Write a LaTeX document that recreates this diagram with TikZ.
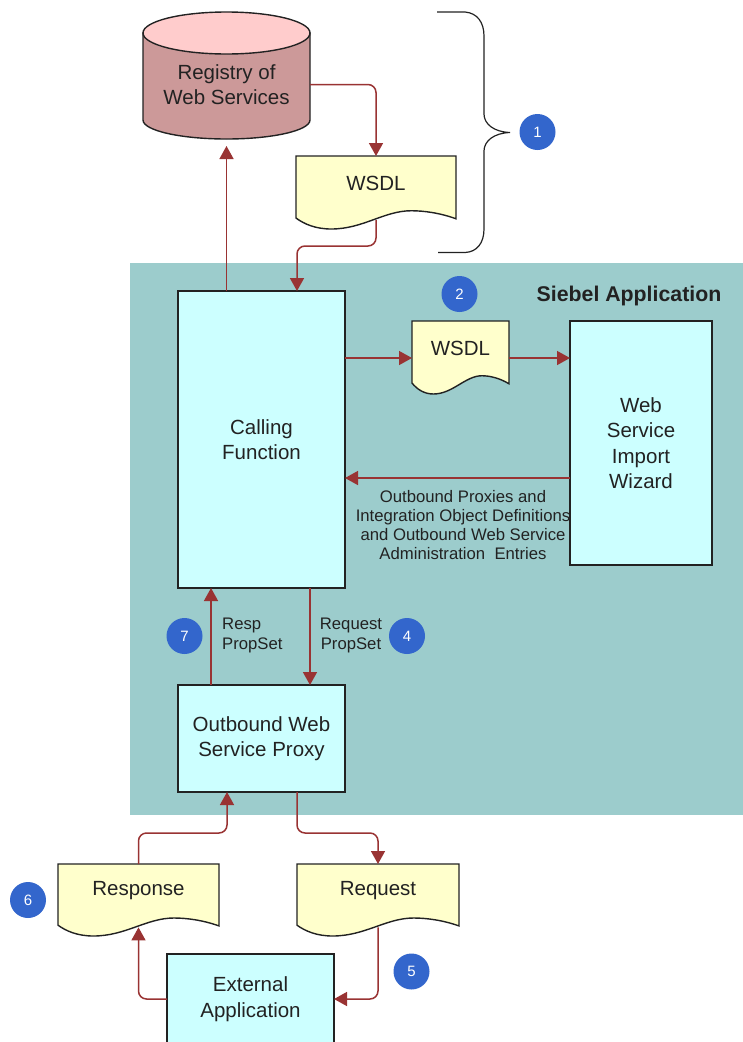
\documentclass[tikz,border=0pt]{standalone}
\usepackage{fontspec}
\setmainfont{Liberation Sans}
\usetikzlibrary{arrows.meta}

\definecolor{panelteal}{HTML}{9CCCCC}
\definecolor{boxcyan}{HTML}{CCFFFF}
\definecolor{pageyellow}{HTML}{FFFFCC}
\definecolor{flowred}{HTML}{993333}
\definecolor{badgeblue}{HTML}{3366CC}
\definecolor{inkgrey}{HTML}{222222}
\definecolor{drumbody}{HTML}{CC9999}
\definecolor{drumtop}{HTML}{FFCCCC}

\newcommand{\wavepage}[6]{%
  \draw [pageline,shift={(#2,#3)},x=#4pt,y=-#5pt] (0,0) -- (1,0) -- (1,.86)
    .. controls (.9,.78) and (.8,.75) .. (.72,.75)
    .. controls (.55,.75) and (.42,1) .. (.22,1)
    .. controls (.12,1) and (.05,.93) .. (0,.85) -- cycle;
  \node [pagetext,minimum width=#4pt] (#1) at ({#2+#4/2},{#3+27}) {#6};
  \coordinate (#1wave) at ({#2+#4/2},{#3+.88*#5});
}

\begin{document}
\begin{tikzpicture}[x=1pt,y=-1pt,text=inkgrey,%
  mainfont/.style={font=\fontsize{20.5}{25.5}\selectfont},%
  smallfont/.style={font=\fontsize{16.7}{19.3}\selectfont},%
  procbox/.style={draw=inkgrey,fill=boxcyan,line width=1.4pt,outer sep=0pt,%
  align=center,mainfont},%
  pageline/.style={draw=inkgrey,fill=pageyellow,line width=1.4pt},%
  pagetext/.style={minimum height=54pt,inner sep=0pt,outer sep=0pt,mainfont},%
  drumline/.style={draw=inkgrey,line width=1.4pt},%
  flow/.style={draw=flowred,line width=1.5pt,rounded corners=8pt,%
  -{Triangle[length=13pt,width=14pt]}},%
  badge/.style={circle,fill=badgeblue,text=white,minimum size=36pt,%
  inner sep=0pt,font=\fontsize{15}{15}\selectfont},%
  note/.style={inner sep=0pt,smallfont}]

  \useasboundingbox (0,0) rectangle (743,1042);
  \fill [panelteal] (130,263) rectangle (743,815);

  \coordinate (bendtop) at (0,246);
  \coordinate (bendlow) at (0,833);
  \coordinate (rowwsdl) at (0,358);

  \draw [drumline,fill=drumbody] (143,33) -- (143,120)
    arc [start angle=180,end angle=0,x radius=83.5,y radius=19] -- (310,33) -- cycle;
  \draw [drumline,fill=drumtop] (226.5,33) ellipse [x radius=83.5,y radius=21];
  \node [minimum width=167pt,minimum height=109pt,inner sep=0pt,outer sep=0pt,%
    align=center,mainfont] (registry) at (226.5,84.5) {Registry of\\Web Services};

  \wavepage{wsdlstore}{296}{156}{160}{73}{WSDL}
  \wavepage{wsdllocal}{412}{321}{97}{73}{WSDL}
  \wavepage{response}{58}{864}{161}{72}{Response}
  \wavepage{request}{297}{864}{162}{72}{Request}

  \node [procbox,minimum width=167pt,minimum height=297pt] (calling) at (261.5,439.5)
    {Calling\\Function};
  \node [procbox,minimum width=142pt,minimum height=244pt] (wizard) at (641,443)
    {Web\\Service\\Import\\Wizard};
  \node [procbox,minimum width=167pt,minimum height=107pt] (proxy) at (261.5,738.5)
    {Outbound Web\\Service Proxy};
  \node [procbox,minimum width=167pt,minimum height=90pt] (external) at (250.5,999)
    {External\\Application};

  \draw [flow] (registry.east) -| (wsdlstore.north);
  \draw [flow] (wsdlstorewave) -- (wsdlstorewave |- bendtop)
    -| ([xshift=35.5pt]calling.north);
  \draw [flow,shorten >=7pt] (calling.north -| registry.south) -- (registry.south);
  \draw [flow] (calling.east |- rowwsdl) -- (wsdllocal.west |- rowwsdl);
  \draw [flow] (wsdllocal.east |- rowwsdl) -- (wizard.west |- rowwsdl);
  \draw [flow] ([yshift=-35pt]wizard.west) -- ([yshift=-35pt]wizard.west -| calling.east);
  \draw [flow] ([xshift=48.5pt]calling.south) -- ([xshift=48.5pt]proxy.north);
  \draw [flow] ([xshift=-50.5pt]proxy.north) -- ([xshift=-50.5pt]calling.south);
  \draw [flow] ([xshift=35.5pt]proxy.south) -- ([xshift=35.5pt]proxy.south |- bendlow)
    -| (request.north);
  \draw [flow] (response.north) -- (response.north |- bendlow)
    -| ([xshift=-34.5pt]proxy.south);
  \draw [flow] (requestwave) |- (external.east);
  \draw [flow] (external.west) -| (responsewave);

  \draw [draw=inkgrey,line width=1.2pt] (437,12) -- (465,12)
    .. controls (477,13) and (484,22) .. (484,36) -- (484,114)
    .. controls (484,124) and (494,132) .. (510,132.5)
    .. controls (494,133) and (484,141) .. (484,151) -- (484,229)
    .. controls (484,243) and (477,252) .. (465,252.5) -- (438,252.5);

  \node [inner sep=0pt,font=\bfseries\fontsize{21.3}{24}\selectfont] (siebel) at (629,296)
    {Siebel Application};
  \node [note,align=center] (artifacts) at (463,525)
    {Outbound Proxies and\\Integration Object Definitions\\and Outbound Web Service\\Administration\ \ Entries};
  \node [note,align=left,anchor=west] (resplabel) at (222,635.5) {Resp\\PropSet};
  \node [note,align=center] (reqlabel) at (351,635.5) {Request\\PropSet};

  \node [badge] (stepone) at (537.5,132) {1};
  \node [badge] (steptwo) at (459.5,294) {2};
  \node [badge] (stepfour) at (407,636) {4};
  \node [badge] (stepfive) at (411.5,971.5) {5};
  \node [badge] (stepsix) at (28,900) {6};
  \node [badge] (stepseven) at (184.5,636) {7};
\end{tikzpicture}
\end{document}
